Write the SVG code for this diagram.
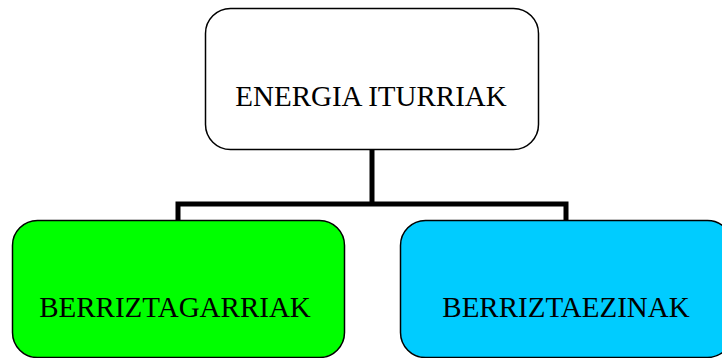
<svg xmlns="http://www.w3.org/2000/svg" width="722" height="358" viewBox="0 0 722 358">
<style>
.box{stroke:#000;stroke-width:1.5}
.lbl{font-family:"Liberation Serif","Times New Roman",serif;font-size:29px;fill:#000;text-anchor:middle}
.conn{fill:none;stroke:#000;stroke-width:5}
</style>
<rect width="722" height="358" fill="#fff"/>
<g id="connectors">
<polyline class="conn" points="372,149 372,204"/>
<polyline class="conn" points="178,220 178,204 566,204 566,220"/>
</g>
<g id="node-root">
<rect class="box" x="205.5" y="8.5" width="333" height="141" rx="25" fill="#fff"/>
<text class="lbl" x="371" y="106">ENERGIA ITURRIAK</text>
</g>
<g id="node-renewable">
<rect class="box" x="12.5" y="220.5" width="332" height="137" rx="25" fill="#00ff00"/>
<text class="lbl" x="175" y="317">BERRIZTAGARRIAK</text>
</g>
<g id="node-nonrenewable">
<rect class="box" x="400.5" y="220.5" width="332" height="137" rx="25" fill="#00ccff"/>
<text class="lbl" x="566" y="317">BERRIZTAEZINAK</text>
</g>
</svg>
